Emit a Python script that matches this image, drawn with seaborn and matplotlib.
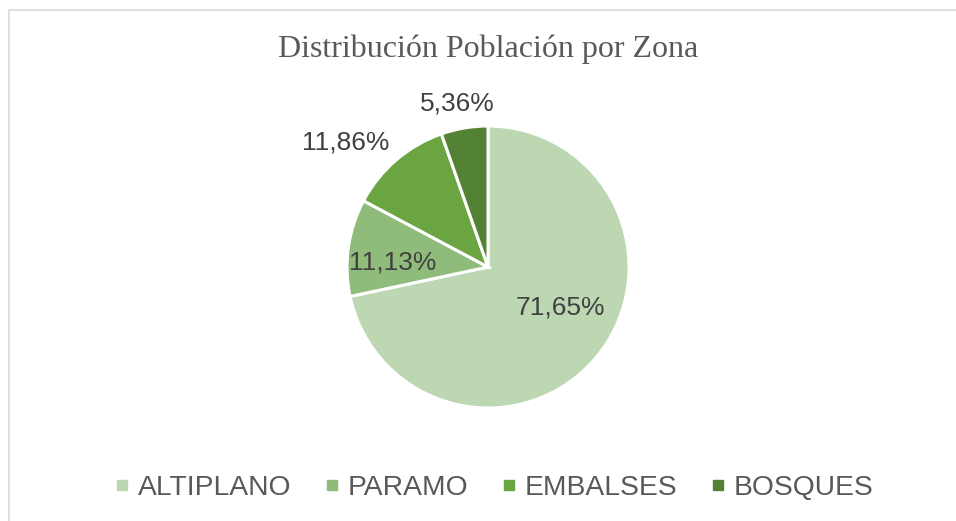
import numpy as np
import seaborn as sns
import matplotlib.pyplot as plt
from matplotlib.lines import Line2D
from matplotlib.patches import Rectangle

zonas = ["ALTIPLANO", "PARAMO", "EMBALSES", "BOSQUES"]
porcentajes = [71.65, 11.13, 11.86, 5.36]
colores = ["#bdd7b3", "#8fbc7a", "#6aa542", "#548235"]
titulo = "Distribución Población por Zona"

sns.set_theme(style="white")
plt.rcParams["font.family"] = ["Liberation Sans", "DejaVu Sans"]

W, H = 956, 521
fig = plt.figure(figsize=(W / 100, H / 100), dpi=100)

# chart border (Excel-style frame, cut at the right/bottom edge)
fig.patches.append(Rectangle((8.5 / W, -0.1), 1.2, 1 - 9.5 / H + 0.1,
                             transform=fig.transFigure, fill=False,
                             edgecolor="#d9d9d9", linewidth=1.2))

cx, cy, r = 488, 521 - 267, 141
half = 150
ax = fig.add_axes([(cx - half) / W, (cy - half) / H, 2 * half / W, 2 * half / H])

wedges, _, autotexts = ax.pie(
    porcentajes, colors=colores, startangle=90, counterclock=False,
    autopct=lambda p: f"{p:.2f}%".replace(".", ","), pctdistance=0.5,
    wedgeprops=dict(edgecolor="white", linewidth=2.2),
    textprops=dict(color="#404040", fontsize=19),
)
lim = half / r
ax.set_xlim(-lim, lim)
ax.set_ylim(-lim, lim)
ax.set_aspect("equal")
ax.axis("off")

# place labels like Excel's best-fit
dist = [0.59, 0.68, 1.34, 1.18]
shift = [10, 5, 8, 1]
for w, t, d, s in zip(wedges, autotexts, dist, shift):
    ang = np.deg2rad((w.theta1 + w.theta2) / 2 + s)
    t.set_position((d * np.cos(ang), d * np.sin(ang)))
    t.set_ha("center")
    t.set_va("center")

fig.text(488.5 / W, 1 - 49 / H, titulo, ha="center", va="center",
         fontsize=23, color="#595959", family=["Liberation Serif", "DejaVu Serif"])

handles = [Line2D([], [], marker="s", linestyle="", markersize=7.5,
                  markerfacecolor=c, markeredgecolor=c) for c in colores]
fig.legend(handles, zonas, loc="center", bbox_to_anchor=(494 / W, 1 - 488 / H),
           ncol=4, frameon=False, fontsize=20.3, labelcolor="#595959",
           handlelength=0.5, handletextpad=0.3, columnspacing=1.2)

fig.savefig("out.png", dpi=100)
